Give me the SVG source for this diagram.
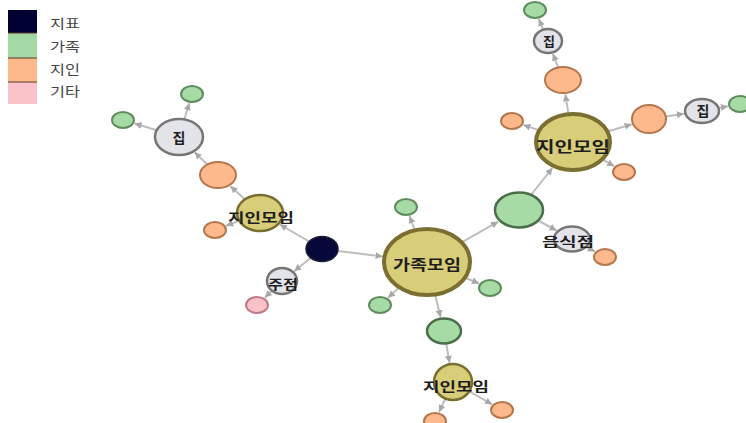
<svg xmlns="http://www.w3.org/2000/svg" width="746" height="423" viewBox="0 0 746 423">
<style>
text{font-family:"Noto Sans CJK KR","Noto Sans",sans-serif;}
.lg{font-size:13px;fill:#444;}
.lbl{font-weight:bold;fill:#1e1e1e;text-anchor:middle;}
.e{stroke:#bdbdbd;stroke-width:2;fill:none;marker-end:url(#ah);}
.blk{fill:#07083a;stroke:#1a1a30;stroke-width:1.5;}
.grn{fill:#a6dba6;stroke:#5f8c5f;stroke-width:2;}
.grnb{fill:#a6dba6;stroke:#4a6e4a;stroke-width:2.5;}
.org{fill:#fdb98b;stroke:#b3764d;stroke-width:2;}
.pnk{fill:#f8c2c9;stroke:#bf7a85;stroke-width:2;}
.gry{fill:#e3e3ea;stroke:#767676;stroke-width:2.5;}
.yel{fill:#d8ce7a;stroke:#7a6f30;stroke-width:2.5;}
.yelb{fill:#d8ce7a;stroke:#7a6f30;stroke-width:4;}
</style>
<defs>
<marker id="ah" markerUnits="userSpaceOnUse" markerWidth="8" markerHeight="8" refX="7" refY="3.5" orient="auto">
<path d="M0,0 L7,3.5 L0,7 Z" fill="#a8a8a8"/>
</marker>
</defs>
<rect width="746" height="423" fill="#ffffff"/>
<g id="legend">
<rect x="8" y="10" width="29" height="23" fill="#000033"/>
<rect x="8" y="33" width="29" height="25" fill="#a3d9a5"/>
<rect x="8" y="58" width="29" height="24" fill="#fdb98a"/>
<rect x="8" y="82" width="29" height="22" fill="#f9c3c9"/>
<path d="M8,33 H37 M8,58 H37 M8,82 H37" stroke="#5a3a2a" stroke-width="1"/>
<text class="lg" x="50" y="28" textLength="30" lengthAdjust="spacingAndGlyphs">지표</text>
<text class="lg" x="50" y="51" textLength="30" lengthAdjust="spacingAndGlyphs">가족</text>
<text class="lg" x="50" y="74" textLength="30" lengthAdjust="spacingAndGlyphs">지인</text>
<text class="lg" x="50" y="96" textLength="30" lengthAdjust="spacingAndGlyphs">기타</text>
</g>
<g id="edges">
<line class="e" x1="322" y1="249" x2="382.6" y2="256.5"/>
<line class="e" x1="322" y1="249" x2="279.8" y2="224.5"/>
<line class="e" x1="322" y1="249" x2="294.2" y2="271.2"/>
<line class="e" x1="282" y1="281" x2="264.8" y2="297.6"/>
<line class="e" x1="260" y1="213" x2="230.4" y2="186.2"/>
<line class="e" x1="260" y1="213" x2="226.2" y2="225.8"/>
<line class="e" x1="218" y1="175" x2="194.7" y2="152.3"/>
<line class="e" x1="179" y1="137" x2="189.2" y2="103.3"/>
<line class="e" x1="179" y1="137" x2="134.6" y2="123.5"/>
<line class="e" x1="427" y1="262" x2="409.5" y2="216.1"/>
<line class="e" x1="427" y1="262" x2="388" y2="297.7"/>
<line class="e" x1="427" y1="262" x2="479" y2="283.5"/>
<line class="e" x1="427" y1="262" x2="440.6" y2="317.2"/>
<line class="e" x1="444" y1="331" x2="449.6" y2="362.8"/>
<line class="e" x1="453" y1="382" x2="439.1" y2="412"/>
<line class="e" x1="453" y1="382" x2="492" y2="404.3"/>
<line class="e" x1="427" y1="262" x2="498.2" y2="221.7"/>
<line class="e" x1="519" y1="210" x2="552.4" y2="168"/>
<line class="e" x1="519" y1="210" x2="556.5" y2="230.5"/>
<line class="e" x1="572" y1="239" x2="594.8" y2="251.5"/>
<line class="e" x1="573" y1="142" x2="565.3" y2="94.4"/>
<line class="e" x1="563" y1="80" x2="552.9" y2="53.8"/>
<line class="e" x1="548" y1="41" x2="538.8" y2="19.1"/>
<line class="e" x1="573" y1="142" x2="523.4" y2="124.9"/>
<line class="e" x1="573" y1="142" x2="614.1" y2="166.2"/>
<line class="e" x1="573" y1="142" x2="631.6" y2="124.3"/>
<line class="e" x1="649" y1="119" x2="683.9" y2="113.7"/>
<line class="e" x1="702" y1="111" x2="727.8" y2="106.2"/>
</g>
<g id="n-jipyo"><ellipse class="blk" cx="322" cy="249" rx="16" ry="12.5"/></g>
<g id="n-gajok-moim"><ellipse class="yelb" cx="427" cy="262" rx="43" ry="33"/><text class="lbl" x="427" y="270" font-size="15" textLength="68" lengthAdjust="spacingAndGlyphs">가족모임</text></g>
<g id="n-jiin-moim-l"><ellipse class="yel" cx="260" cy="213" rx="23" ry="18"/><text class="lbl" x="261" y="222" font-size="13" textLength="66" lengthAdjust="spacingAndGlyphs">지인모임</text></g>
<g id="n-orange-l1"><ellipse class="org" cx="218" cy="175" rx="18" ry="13"/></g>
<g id="n-jip-l"><ellipse class="gry" cx="179" cy="137" rx="24" ry="18"/><text class="lbl" x="179" y="143" font-size="14">집</text></g>
<g id="n-green-lt"><ellipse class="grn" cx="192" cy="94" rx="11" ry="8"/></g>
<g id="n-green-ll"><ellipse class="grn" cx="123" cy="120" rx="11" ry="8"/></g>
<g id="n-orange-ls"><ellipse class="org" cx="215" cy="230" rx="11" ry="8"/></g>
<g id="n-jujeom"><ellipse class="gry" cx="282" cy="281" rx="15" ry="13"/><text class="lbl" x="283" y="289" font-size="13" textLength="30" lengthAdjust="spacingAndGlyphs">주점</text></g>
<g id="n-pink"><ellipse class="pnk" cx="257" cy="305" rx="11" ry="8"/></g>
<g id="n-green-k"><ellipse class="grn" cx="406" cy="207" rx="11" ry="8"/></g>
<g id="n-green-l"><ellipse class="grn" cx="380" cy="305" rx="11" ry="8"/></g>
<g id="n-green-m"><ellipse class="grn" cx="490" cy="288" rx="11" ry="8"/></g>
<g id="n-green-n"><ellipse class="grnb" cx="444" cy="331" rx="17" ry="12.5"/></g>
<g id="n-jiin-moim-b"><ellipse class="yel" cx="453" cy="382" rx="19" ry="18"/><text class="lbl" x="456" y="391" font-size="13" textLength="66" lengthAdjust="spacingAndGlyphs">지인모임</text></g>
<g id="n-orange-bl"><ellipse class="org" cx="435" cy="421" rx="11" ry="8"/></g>
<g id="n-orange-br"><ellipse class="org" cx="502" cy="410" rx="11" ry="8"/></g>
<g id="n-green-r"><ellipse class="grnb" cx="519" cy="210" rx="24" ry="17.5"/></g>
<g id="n-eumsikjeom"><ellipse class="gry" cx="572" cy="239" rx="18" ry="12.5"/><text class="lbl" x="568" y="246" font-size="13" textLength="52" lengthAdjust="spacingAndGlyphs">음식점</text></g>
<g id="n-orange-t"><ellipse class="org" cx="605" cy="257" rx="11" ry="8"/></g>
<g id="n-jiin-moim-r"><ellipse class="yelb" cx="573" cy="142" rx="37" ry="28"/><text class="lbl" x="573" y="152" font-size="15" textLength="74" lengthAdjust="spacingAndGlyphs">지인모임</text></g>
<g id="n-orange-v"><ellipse class="org" cx="563" cy="80" rx="18" ry="13"/></g>
<g id="n-jip-t"><ellipse class="gry" cx="548" cy="41" rx="14" ry="12"/><text class="lbl" x="549" y="46" font-size="13">집</text></g>
<g id="n-green-x"><ellipse class="grn" cx="535" cy="10" rx="11" ry="8"/></g>
<g id="n-orange-y"><ellipse class="org" cx="512" cy="121" rx="11" ry="8"/></g>
<g id="n-orange-z"><ellipse class="org" cx="624" cy="172" rx="11" ry="8"/></g>
<g id="n-orange-aa"><ellipse class="org" cx="649" cy="119" rx="17" ry="14"/></g>
<g id="n-jip-r"><ellipse class="gry" cx="702" cy="111" rx="17" ry="12"/><text class="lbl" x="703" y="116" font-size="14">집</text></g>
<g id="n-green-ac"><ellipse class="grn" cx="740" cy="104" rx="11" ry="8"/></g>
</svg>
